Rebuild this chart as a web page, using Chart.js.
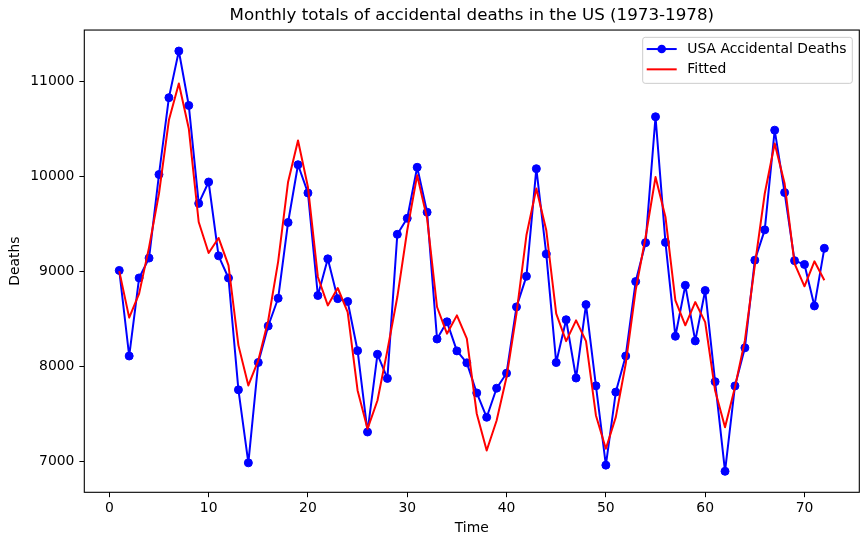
<!DOCTYPE html>
<html>
<head>
<meta charset="utf-8">
<script src="https://cdn.jsdelivr.net/npm/chart.js@4.4.1/dist/chart.umd.min.js"></script>
<style>
    body { margin: 0; background: #fff; }
    #wrap { width: 868px; height: 545px; }
</style>
</head>
<body>
<div id="wrap"><canvas id="deathsChart" width="868" height="545"></canvas></div>
<script>
// Month index (1 = Jan 1973 ... 72 = Dec 1978)
const months = [1, 2, 3, 4, 5, 6, 7, 8, 9, 10, 11, 12,
    13, 14, 15, 16, 17, 18, 19, 20, 21, 22, 23, 24,
    25, 26, 27, 28, 29, 30, 31, 32, 33, 34, 35, 36,
    37, 38, 39, 40, 41, 42, 43, 44, 45, 46, 47, 48,
    49, 50, 51, 52, 53, 54, 55, 56, 57, 58, 59, 60,
    61, 62, 63, 64, 65, 66, 67, 68, 69, 70, 71, 72];

const deaths = [9007, 8106, 8928, 9137, 10017, 10826, 11317, 10744, 9713, 9938, 9161, 8927,
    7750, 6981, 8038, 8422, 8714, 9512, 10120, 9823, 8743, 9129, 8710, 8680,
    8162, 7306, 8124, 7870, 9387, 9556, 10093, 9620, 8285, 8466, 8160, 8034,
    7717, 7461, 7767, 7925, 8623, 8945, 10078, 9179, 8037, 8488, 7874, 8647,
    7792, 6957, 7726, 8106, 8890, 9299, 10625, 9302, 8314, 8850, 8265, 8796,
    7836, 6892, 7791, 8192, 9115, 9434, 10484, 9827, 9110, 9070, 8633, 9240];

// fitted values
const fitted = [9000, 8510, 8763, 9250, 9817, 10590, 10976, 10502, 9517, 9191, 9349, 9061,
    8218, 7796, 8060, 8480, 9100, 9939, 10375, 9886, 8938, 8639, 8822, 8569,
    7743, 7339, 7638, 8165, 8727, 9430, 10010, 9553, 8622, 8341, 8534, 8288,
    7498, 7111, 7427, 7884, 8552, 9377, 9869, 9430, 8552, 8263, 8481, 8263,
    7480, 7129, 7462, 8024, 8797, 9359, 9990, 9570, 8692, 8429, 8674, 8463,
    7743, 7356, 7778, 8270, 9061, 9817, 10344, 9922, 9079, 8840, 9103, 8903];

const xTicks = [0, 10, 20, 30, 40, 50, 60, 70];
const yTicks = [7000, 8000, 9000, 10000, 11000];

const seriesNames = ['USA Accidental Deaths', 'Fitted'];
const seriesColors = ['#0000ff', '#ff0000'];

const FONT = 'DejaVu Sans';
const FS = 13.9; // 10pt at 100 dpi

// black box round the plot area, like matplotlib's spines
const framePlugin = {
    id: 'frame',
    afterLayout(chart) {
        // center the title over the plot area, not the whole canvas
        if (chart.titleBlock) {
            chart.titleBlock.left = chart.chartArea.left;
            chart.titleBlock.right = chart.chartArea.right;
        }
    },
    afterDatasetsDraw(chart) {
        const a = chart.chartArea;
        const c = chart.ctx;
        c.save();
        c.strokeStyle = '#000';
        c.lineWidth = 1.1;
        c.strokeRect(a.left, a.top, a.right - a.left, a.bottom - a.top);
        c.restore();
    }
};

// legend box in the upper right corner
const boxLegend = {
    id: 'boxLegend',
    afterDraw(chart) {
        const a = chart.chartArea;
        const c = chart.ctx;
        const w = 209.6, h = 46;
        const x = a.right - 7 - w;
        const y = a.top + 7.3;
        c.save();
        c.fillStyle = 'rgba(255,255,255,0.8)';
        c.strokeStyle = '#cccccc';
        c.lineWidth = 1;
        c.beginPath();
        c.roundRect(x, y, w, h, 2.5);
        c.fill();
        c.stroke();

        c.font = FS + 'px "' + FONT + '"';
        c.textBaseline = 'middle';
        c.textAlign = 'left';
        const rows = [y + 11.7, y + 32];
        seriesNames.forEach((name, i) => {
            const ry = rows[i];
            c.strokeStyle = seriesColors[i];
            c.lineWidth = 2;
            c.beginPath();
            c.moveTo(x + 4, ry);
            c.lineTo(x + 34, ry);
            c.stroke();
            if (i === 0) {
                c.fillStyle = seriesColors[i];
                c.beginPath();
                c.arc(x + 19, ry, 4.3, 0, Math.PI * 2);
                c.fill();
            }
            c.fillStyle = '#000';
            c.fillText(name, x + 44.6, ry + 0.5);
        });
        c.restore();
    }
};

const ctx = document.getElementById('deathsChart').getContext('2d');

const myChart = new Chart(ctx, {
    type: 'line',
    data: {
        datasets: [{
            label: seriesNames[0],
            data: months.map((m, i) => ({ x: m, y: deaths[i] })),
            borderColor: seriesColors[0],
            backgroundColor: seriesColors[0],
            borderWidth: 2,
            borderJoinStyle: 'round',
            pointRadius: 4,
            pointBorderWidth: 1,
            pointBorderColor: seriesColors[0],
            pointBackgroundColor: seriesColors[0],
            tension: 0,
            order: 2
        }, {
            label: seriesNames[1],
            data: months.map((m, i) => ({ x: m, y: fitted[i] })),
            borderColor: seriesColors[1],
            backgroundColor: seriesColors[1],
            borderWidth: 2,
            borderJoinStyle: 'round',
            pointRadius: 0,
            tension: 0,
            order: 1
        }]
    },
    options: {
        responsive: false,
        animation: false,
        devicePixelRatio: 1,
        layout: {
            padding: { left: 0, right: 8.7, top: 0, bottom: 0 }
        },
        scales: {
            x: {
                type: 'linear',
                min: -2.52,
                max: 75.52,
                afterBuildTicks: scale => {
                    scale.ticks = xTicks.map(v => ({ value: v }));
                },
                afterFit: scale => {
                    scale.height = 52.7;
                },
                grid: {
                    display: true,
                    drawOnChartArea: false,
                    drawTicks: true,
                    tickLength: 4.9,
                    tickColor: '#000',
                    tickWidth: 1
                },
                border: { display: false },
                ticks: {
                    color: '#000',
                    padding: 3,
                    maxRotation: 0,
                    callback: v => String(v),
                    font: { family: FONT, size: FS }
                },
                title: {
                    display: true,
                    text: 'Time',
                    color: '#000',
                    padding: { top: 0, bottom: 8 },
                    font: { family: FONT, size: FS }
                }
            },
            y: {
                type: 'linear',
                min: 6671,
                max: 11538,
                afterBuildTicks: scale => {
                    scale.ticks = yTicks.map(v => ({ value: v }));
                },
                afterFit: scale => {
                    scale.width = 84.3;
                },
                grid: {
                    display: true,
                    drawOnChartArea: false,
                    drawTicks: true,
                    tickLength: 4.9,
                    tickColor: '#000',
                    tickWidth: 1
                },
                border: { display: false },
                ticks: {
                    color: '#000',
                    padding: 5,
                    callback: v => String(v),
                    font: { family: FONT, size: FS }
                },
                title: {
                    display: true,
                    text: 'Deaths',
                    color: '#000',
                    padding: { top: 7, bottom: 0 },
                    font: { family: FONT, size: FS }
                }
            }
        },
        plugins: {
            legend: { display: false },
            tooltip: { enabled: false },
            title: {
                display: true,
                text: 'Monthly totals of accidental deaths in the US (1973-1978)',
                color: '#000',
                font: { family: FONT, size: 16.7, weight: 'normal' },
                padding: { top: 6, bottom: 4 }
            }
        }
    },
    plugins: [framePlugin, boxLegend]
});
</script>
</body>
</html>
